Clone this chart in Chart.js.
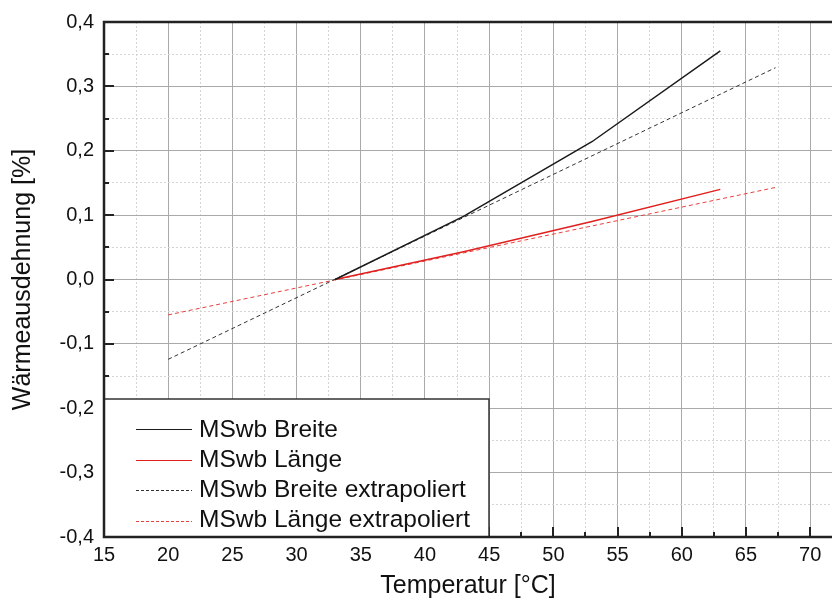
<!DOCTYPE html>
<html lang="de">
<head>
  <meta charset="UTF-8">
  <title>Wärmeausdehnung MSwb</title>
  <script src="https://cdn.jsdelivr.net/npm/chart.js"></script>
  <style>
    body {
      margin: 0;
      padding: 0;
      background: #fff;
    }
    #chartBox {
      width: 832px;
      height: 608px;
    }
  </style>
</head>
<body>
  <div id="chartBox">
    <canvas id="ausdehnungChart"></canvas>
  </div>

  <script>
    // Messwerte
    const tempMessung = [33, 43, 53, 63];
    const breiteMessung = [0, 0.098, 0.214, 0.355];
    const laengeMessung = [0, 0.043, 0.09, 0.14];

    // Extrapolation
    const tempExtra = [20, 67.3];
    const breiteExtra = [-0.124, 0.329];
    const laengeExtra = [-0.055, 0.143];

    const labels = ["MSwb Breite", "MSwb Länge", "MSwb Breite extrapoliert", "MSwb Länge extrapoliert"];

    const FONT = "'Liberation Sans', Arial, sans-serif";

    function toPoints(xs, ys) {
      return xs.map((x, i) => ({x: x, y: ys[i]}));
    }

    function isMajorX(v) {
      return Math.abs(v / 5 - Math.round(v / 5)) < 1e-6;
    }
    function isMajorY(v) {
      return Math.abs(v * 10 - Math.round(v * 10)) < 1e-6;
    }

    // Rahmen, Ticks nach innen und Legende
    const rahmenPlugin = {
      id: 'rahmen',
      afterDraw(chart) {
        const c = chart.ctx;
        const area = chart.chartArea;
        const xs = chart.scales.x;
        const ys = chart.scales.y;
        c.save();

        // Ticks nach innen
        c.strokeStyle = '#222';
        c.lineWidth = 2;
        xs.ticks.forEach(t => {
          const px = Math.round(xs.getPixelForValue(t.value));
          const len = isMajorX(t.value) ? 10 : 5;
          c.beginPath();
          c.moveTo(px, area.bottom);
          c.lineTo(px, area.bottom - len);
          c.stroke();
        });
        ys.ticks.forEach(t => {
          const py = Math.round(ys.getPixelForValue(t.value));
          const len = isMajorY(t.value) ? 10 : 5;
          c.beginPath();
          c.moveTo(area.left, py);
          c.lineTo(area.left + len, py);
          c.stroke();
        });

        // Legende
        const lx = area.left, ly = 399, lw = 385, lh = area.bottom - 399;
        c.fillStyle = '#fff';
        c.fillRect(lx, ly, lw, lh);
        c.strokeStyle = '#333';
        c.lineWidth = 1.5;
        c.strokeRect(lx, ly, lw, lh);
        c.font = '24.5px ' + FONT;
        c.textBaseline = 'alphabetic';
        chart.data.datasets.forEach((ds, i) => {
          const lineY = Math.round(429 + i * 30.7) + 0.5;
          c.beginPath();
          c.strokeStyle = ds.borderColor;
          c.lineWidth = 1;
          c.setLineDash(ds.borderDash ? [3, 2] : []);
          c.moveTo(lx + 32, lineY);
          c.lineTo(lx + 88, lineY);
          c.stroke();
          c.setLineDash([]);
          c.fillStyle = '#111';
          c.fillText(ds.label, lx + 95, 437 + i * 30);
        });

        // Achsenrahmen
        c.strokeStyle = '#222';
        c.lineWidth = 2.5;
        c.beginPath();
        c.moveTo(area.right, area.top);
        c.lineTo(area.left, area.top);
        c.lineTo(area.left, area.bottom);
        c.lineTo(area.right, area.bottom);
        c.stroke();
        c.restore();
      }
    };

    const ctx = document.getElementById('ausdehnungChart').getContext('2d');
    const ausdehnungChart = new Chart(ctx, {
      type: 'line',
      data: {
        datasets: [
          {
            label: labels[0],
            data: toPoints(tempMessung, breiteMessung),
            borderColor: '#1a1a1a',
            borderWidth: 1.5
          },
          {
            label: labels[1],
            data: toPoints(tempMessung, laengeMessung),
            borderColor: '#e0201e',
            borderWidth: 1.5
          },
          {
            label: labels[2],
            data: toPoints(tempExtra, breiteExtra),
            borderColor: '#333',
            borderWidth: 1,
            borderDash: [4, 3]
          },
          {
            label: labels[3],
            data: toPoints(tempExtra, laengeExtra),
            borderColor: '#e8403c',
            borderWidth: 1,
            borderDash: [4, 3]
          }
        ]
      },
      options: {
        responsive: true,
        maintainAspectRatio: false,
        animation: false,
        layout: {
          padding: {top: 22, right: 0, left: 0, bottom: 0}
        },
        elements: {
          point: {radius: 0},
          line: {tension: 0}
        },
        plugins: {
          legend: {display: false},
          tooltip: {enabled: false}
        },
        scales: {
          x: {
            type: 'linear',
            min: 15,
            max: 71.7,
            afterFit(scale) {
              scale.height = 71;
            },
            ticks: {
              stepSize: 2.5,
              includeBounds: false,
              autoSkip: false,
              maxRotation: 0,
              padding: 6,
              color: '#111',
              font: {family: FONT, size: 20},
              callback: v => isMajorX(v) ? String(Math.round(v)) : ''
            },
            grid: {
              drawTicks: false,
              color: c => (c.tick && isMajorX(c.tick.value)) ? '#a9a9a9' : '#d4d4d4',
              lineWidth: 1
            },
            border: {
              display: false,
              dash: c => (c.tick && !isMajorX(c.tick.value)) ? [2, 2] : []
            },
            title: {
              display: true,
              text: 'Temperatur [°C]',
              color: '#111',
              font: {family: FONT, size: 25},
              padding: {top: 0, bottom: 7}
            }
          },
          y: {
            min: -0.4,
            max: 0.4,
            afterFit(scale) {
              scale.width = 104;
            },
            ticks: {
              stepSize: 0.05,
              autoSkip: false,
              padding: 10,
              color: '#111',
              font: {family: FONT, size: 20},
              callback: v => isMajorY(v) ? v.toFixed(1).replace('.', ',').replace('-0,0', '0,0') : ''
            },
            grid: {
              drawTicks: false,
              color: c => (c.tick && isMajorY(c.tick.value)) ? '#a9a9a9' : '#d4d4d4',
              lineWidth: 1
            },
            border: {
              display: false,
              dash: c => (c.tick && !isMajorY(c.tick.value)) ? [2, 2] : []
            },
            title: {
              display: true,
              text: 'Wärmeausdehnung [%]',
              color: '#111',
              font: {family: FONT, size: 25},
              padding: {top: 8, bottom: 0}
            }
          }
        }
      },
      plugins: [rahmenPlugin]
    });
  </script>
</body>
</html>
